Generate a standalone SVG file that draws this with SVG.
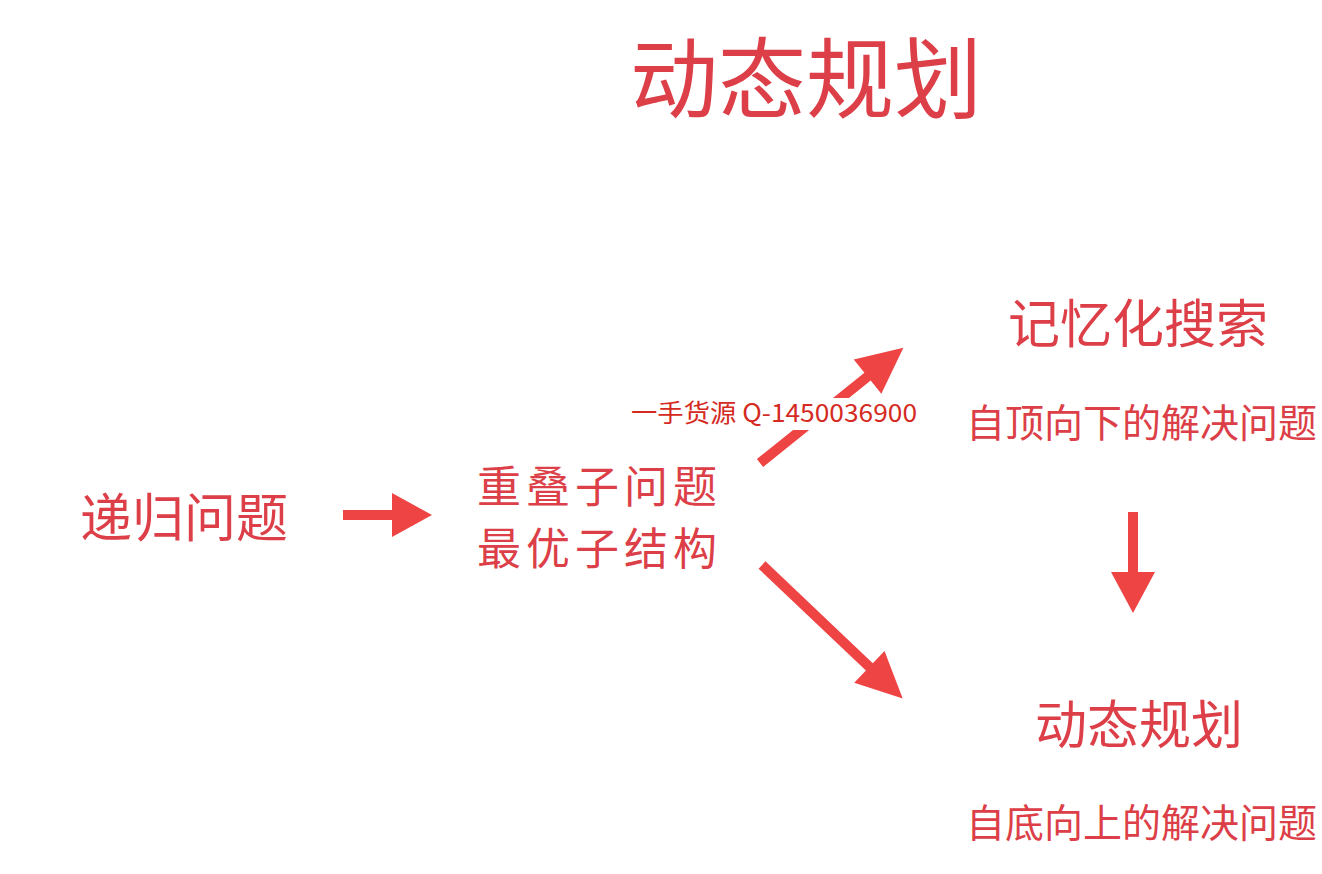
<svg xmlns="http://www.w3.org/2000/svg" width="1322" height="874" viewBox="0 0 1322 874">
<style>
text{font-family:"Noto Sans CJK SC","Noto Sans",sans-serif;fill:#dc3f47}
.t{font-size:88px}
.l{font-size:52px}
.m{font-size:44px;letter-spacing:5px}
.s{font-size:39px}
.w{font-size:25px;fill:#d42a22}
.arr{fill:#ef4444}
</style>
<rect width="1322" height="874" fill="#ffffff"/>
<g id="title"><text class="t" x="630" y="111">动态规划</text></g>
<g id="recursion"><text class="l" x="80" y="537">递归问题</text></g>
<g id="properties"><text class="m" x="477" y="503">重叠子问题</text><text class="m" x="477" y="565">最优子结构</text></g>
<g id="memo"><text class="l" x="1008" y="343">记忆化搜索</text><text class="s" x="966" y="437">自顶向下的解决问题</text></g>
<g id="dp"><text class="l" x="1035" y="744">动态规划</text><text class="s" x="966" y="837">自底向上的解决问题</text></g>
<g id="connectors">
<polygon class="arr" points="343,510 392,510 392,493 432,515 392,537 392,520 343,520"/>
<polygon class="arr" transform="translate(760,463) rotate(-38.8)" points="0,-5 138,-5 138,-22 184,0 138,22 138,5 0,5"/>
<polygon class="arr" transform="translate(762,565) rotate(43.5)" points="0,-5 148,-5 148,-22 194,0 148,22 148,5 0,5"/>
<polygon class="arr" points="1128,512 1138,512 1138,572 1155,572 1133,613 1111,572 1128,572"/>
</g>
<g id="watermark"><rect x="630" y="398" width="292" height="32" fill="#ffffff"/><text class="w" x="631" y="422" textLength="286" lengthAdjust="spacingAndGlyphs">一手货源 Q-1450036900</text></g>
</svg>
